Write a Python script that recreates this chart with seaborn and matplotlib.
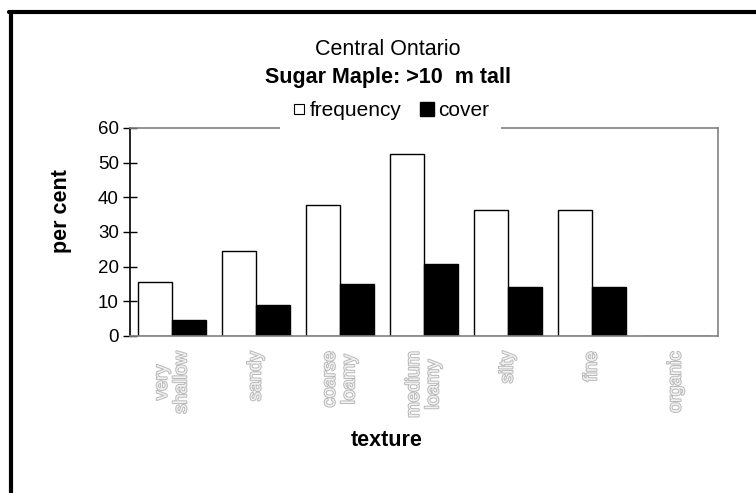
import matplotlib
matplotlib.use("Agg")
import matplotlib.pyplot as plt
import matplotlib.patheffects as pe
from matplotlib.lines import Line2D
from matplotlib.patches import Rectangle
import pandas as pd
import seaborn as sns

# ---------------------------------------------------------------------------
# Data
# ---------------------------------------------------------------------------
textures = ["very\nshallow", "sandy", "coarse\nloamy", "medium\nloamy",
            "silty", "fine", "organic"]
frequency = [15.5, 24.4, 37.8, 52.6, 36.3, 36.3, 0.0]
cover = [4.5, 9.0, 14.9, 20.8, 14.2, 14.2, 0.0]
series = ["frequency", "cover"]
yticks = [0, 10, 20, 30, 40, 50, 60]

df = pd.DataFrame({
    "texture": textures * 2,
    "series": [series[0]] * len(textures) + [series[1]] * len(textures),
    "value": frequency + cover,
})

sns.set_theme(style="white")
plt.rcParams.update({
    "font.family": ["Liberation Sans", "DejaVu Sans"],
    "text.color": "black",
    "axes.labelcolor": "black",
    "xtick.color": "black",
    "ytick.color": "black",
})

W, H = 756, 493
fig = plt.figure(figsize=(W / 100, H / 100), dpi=100)
fig.patch.set_facecolor("white")


def fx(px):
    return px / W


def fy(py):
    return 1 - py / H


# plot area in pixel coords: x 130..718, y 128..336
ax = fig.add_axes([fx(130), fy(336), 588 / W, 208 / H])

sns.barplot(
    data=df, x="texture", y="value", hue="series",
    order=textures, hue_order=series,
    palette={"frequency": "white", "cover": "black"},
    edgecolor="black", linewidth=1.0, width=0.8, gap=0,
    legend=False, ax=ax,
)

ax.set_ylim(0, 60)
ax.set_yticks(yticks)
ax.set_yticklabels([str(t) for t in yticks], fontsize=13.5, color="black")
ax.tick_params(axis="y", direction="inout", length=10, width=1, color="black",
               pad=3, left=True)
ax.tick_params(axis="x", length=0, pad=11)
ax.set_xticks(range(len(textures)))
ax.set_xticklabels(textures, rotation=90, fontsize=13.5, color="#f2f2f2",
                   va="top", ha="center", multialignment="center",
                   linespacing=1.2)
for lab in ax.get_xticklabels():
    lab.set_path_effects([pe.Stroke(linewidth=1.4, foreground="#b8b8b8"),
                          pe.Normal()])
ax.set_xlim(-0.5, len(textures) - 0.5)
ax.set_xlabel("")
ax.set_ylabel("")

for side in ["top", "right", "bottom"]:
    ax.spines[side].set_color("#808080")
    ax.spines[side].set_linewidth(1.2)
ax.spines["left"].set_color("black")
ax.spines["left"].set_linewidth(1.2)

# white gap in the top spine behind the legend
fig.add_artist(Rectangle((fx(280), fy(132)), 221 / W, 8 / H,
                         facecolor="white", edgecolor="none",
                         transform=fig.transFigure, zorder=5))

handles = [
    Line2D([], [], marker="s", linestyle="None", markersize=6.5,
           markerfacecolor="white", markeredgecolor="black", markeredgewidth=0.8),
    Line2D([], [], marker="s", linestyle="None", markersize=9.5,
           markerfacecolor="black", markeredgecolor="black"),
]
leg = fig.legend(handles, series, loc="center", ncol=2,
                 bbox_to_anchor=(fx(391), fy(111)),
                 frameon=False, fontsize=15, handlelength=0.6,
                 handletextpad=0.25, columnspacing=0.9, borderpad=0.1)
for t in leg.get_texts():
    t.set_color("black")
leg.set_zorder(10)

# titles
fig.text(fx(388), fy(55), "Central Ontario", ha="center", va="baseline",
         fontsize=15.5, color="black")
fig.text(fx(388), fy(83), "Sugar Maple: >10  m tall", ha="center",
         va="baseline", fontsize=15.5, fontweight="bold", color="black")

# axis titles
fig.text(fx(387), fy(440), "texture", ha="center", va="center",
         fontsize=15.5, fontweight="bold", color="black")
fig.text(fx(62), fy(211), "per cent", ha="center", va="center",
         rotation=90, fontsize=15.5, fontweight="bold", color="black")

# chart border: top and left edges only
fig.add_artist(Line2D([fx(10.5), fx(10.5)], [0, fy(11.5)],
                      color="black", linewidth=3, transform=fig.transFigure))
fig.add_artist(Line2D([fx(9), 1], [fy(11.5), fy(11.5)],
                      color="black", linewidth=3, transform=fig.transFigure))

fig.savefig("out.png", dpi=100)
